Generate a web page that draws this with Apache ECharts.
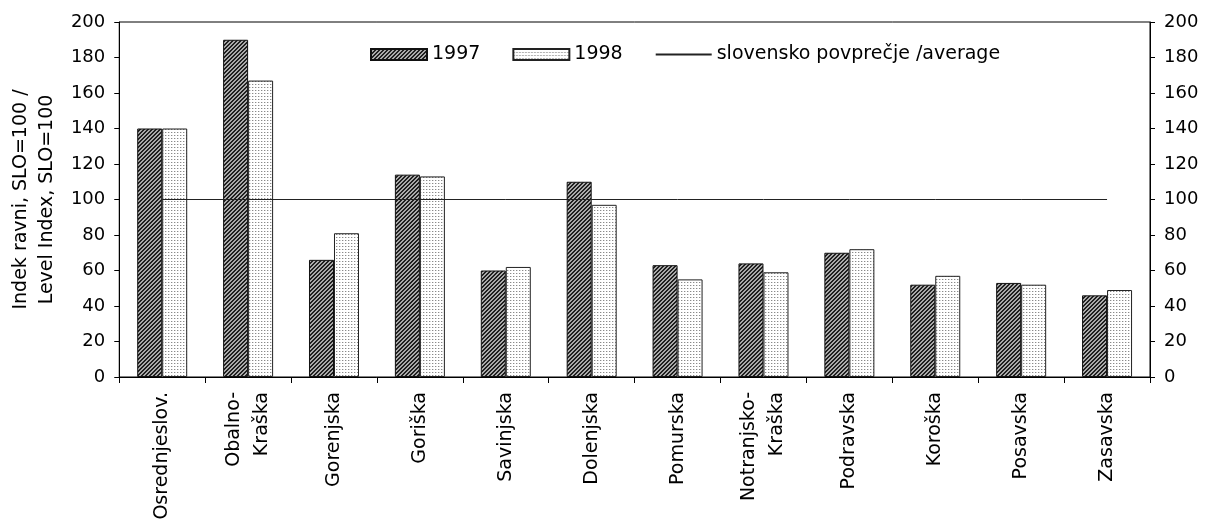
<!DOCTYPE html>
<html>
<head>
<meta charset="utf-8">
<script src="https://cdn.jsdelivr.net/npm/echarts@6/dist/echarts.min.js"></script>
<style>
html,body{margin:0;padding:0;background:#fff;}
#chart{width:1206px;height:527px;}
</style>
</head>
<body>
<div id="chart"></div>
<script>
const categories = ['Osrednjeslov.', 'Obalno-\nKraška', 'Gorenjska', 'Goriška', 'Savinjska', 'Dolenjska', 'Pomurska', 'Notranjsko-\nKraška', 'Podravska', 'Koroška', 'Posavska', 'Zasavska'];
const values1997 = [140, 190, 66, 114, 60, 110, 63, 64, 70, 52, 53, 46];
const values1998 = [140, 167, 81, 113, 62, 97, 55, 59, 72, 57, 52, 49];
const averageValues = [100, 100, 100, 100, 100, 100, 100, 100, 100, 100, 100, 100];
const seriesNames = ['1997', '1998', 'slovensko povprečje /average'];
const yAxisName = 'Indek ravni, SLO=100 /\nLevel Index, SLO=100';

function hatchPattern() {
  const c = document.createElement('canvas');
  c.width = 4; c.height = 4;
  const ctx = c.getContext('2d');
  for (let x = 0; x < 4; x++) {
    for (let y = 0; y < 4; y++) {
      ctx.fillStyle = ((x + y) % 4 < 2) ? '#202020' : '#aaaaaa';
      ctx.fillRect(x, y, 1, 1);
    }
  }
  return c;
}
function dotPattern() {
  const c = document.createElement('canvas');
  c.width = 3; c.height = 3;
  const ctx = c.getContext('2d');
  ctx.fillStyle = '#ffffff';
  ctx.fillRect(0, 0, 3, 3);
  ctx.fillStyle = '#8a8a8a';
  ctx.fillRect(0, 0, 1, 1);
  ctx.fillStyle = '#d8d8d8';
  ctx.fillRect(1, 0, 1, 1);
  return c;
}

const FONT = 'DejaVu Sans';
const chart = echarts.init(document.getElementById('chart'), null, {renderer: 'canvas'});

const yAxisCommon = {
  type: 'value', min: 0, max: 200, interval: 20,
  axisLine: {show: true, lineStyle: {color: '#000', width: 1}},
  axisTick: {show: true, inside: false, length: 5, lineStyle: {color: '#000'}},
  splitLine: {show: false},
  axisLabel: {color: '#000', fontFamily: FONT, fontSize: 18, margin: 14}
};

chart.setOption({
  animation: false,
  backgroundColor: '#fff',
  grid: {left: 118, right: 56, top: 22, bottom: 150, show: true, borderColor: '#000', borderWidth: 1, backgroundColor: 'transparent'},
  legend: {
    left: 365, top: 40,
    itemWidth: 56, itemHeight: 11, itemGap: 32,
    textStyle: {color: '#000', fontFamily: FONT, fontSize: 19},
    data: [
      {name: seriesNames[0], icon: 'rect'},
      {name: seriesNames[1], icon: 'rect'},
      {name: seriesNames[2], itemStyle: {opacity: 0}}
    ]
  },
  xAxis: {
    type: 'category', data: categories, boundaryGap: true,
    axisLine: {show: true, lineStyle: {color: '#000', width: 1}},
    axisTick: {show: true, length: 6, alignWithLabel: false, lineStyle: {color: '#000'}},
    axisLabel: {rotate: 90, interval: 0, color: '#000', fontFamily: FONT, fontSize: 19, lineHeight: 28, margin: 15}
  },
  yAxis: [
    Object.assign({}, yAxisCommon, {
      position: 'left',
      name: yAxisName, nameLocation: 'middle', nameGap: 58,
      nameTextStyle: {color: '#000', fontFamily: FONT, fontSize: 19, lineHeight: 26}
    }),
    Object.assign({}, yAxisCommon, {position: 'right'})
  ],
  series: [
    {
      name: seriesNames[0], type: 'bar', data: values1997, barWidth: 25, barGap: '0%',
      itemStyle: {color: {image: hatchPattern(), repeat: 'repeat'}, borderColor: '#111', borderWidth: 1}
    },
    {
      name: seriesNames[1], type: 'bar', data: values1998, barWidth: 25, barGap: '0%',
      itemStyle: {color: {image: dotPattern(), repeat: 'repeat'}, borderColor: '#222', borderWidth: 1}
    },
    {
      name: seriesNames[2], type: 'line', data: averageValues, symbol: 'none',
      lineStyle: {color: '#222', width: 1},
      itemStyle: {color: '#222'}
    }
  ]
});
</script>
</body>
</html>
